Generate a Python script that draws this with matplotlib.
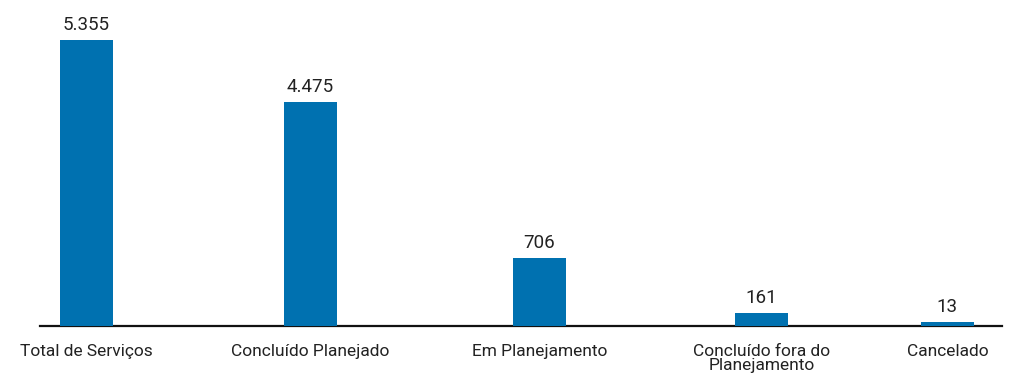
import matplotlib.pyplot as plt
import matplotlib.transforms as mtransforms

categories = ["Total de Serviços", "Concluído Planejado", "Em Planejamento",
              "Concluído fora do\nPlanejamento", "Cancelado"]
values = [5355, 4475, 706, 161, 13]
value_labels = ["5.355", "4.475", "706", "161", "13"]
# bar heights as drawn in the picture (the original is not to scale)
bar_heights = [5355, 4194, 1273, 243, 75]

# layout (pixel-like units along the x axis)
xpos = [46.4, 270.4, 499.4, 721.5, 907.4]
bar_w = 53
bar_color = "#0071B0"
text_color = "#222222"

plt.rcParams["font.family"] = ["Roboto", "DejaVu Sans"]

fig = plt.figure(figsize=(10.11, 3.74), dpi=100)
ax = fig.add_axes([40 / 1011, 48 / 374, 962 / 1011, 326 / 374])

ax.bar(xpos, bar_heights, width=bar_w, color=bar_color, zorder=3)
ax.set_xlim(0, 962)
ax.set_ylim(0, 5355 * 326 / 286)

for spine in ["top", "right", "left"]:
    ax.spines[spine].set_visible(False)
ax.spines["bottom"].set_color("#111111")
ax.spines["bottom"].set_linewidth(1.6)
ax.set_yticks([])

ax.set_xticks(xpos)
ax.set_xticklabels(categories, fontsize=12.5, color=text_color, linespacing=0.92)
ax.tick_params(axis="x", length=0, pad=13)

offset = mtransforms.offset_copy(ax.transData, fig=fig, x=0, y=10, units="dots")
for x, h, lab in zip(xpos, bar_heights, value_labels):
    ax.text(x, h, lab, transform=offset, ha="center", va="baseline",
            fontsize=13.5, color=text_color)

fig.savefig("out.png", dpi=100, facecolor="white")
